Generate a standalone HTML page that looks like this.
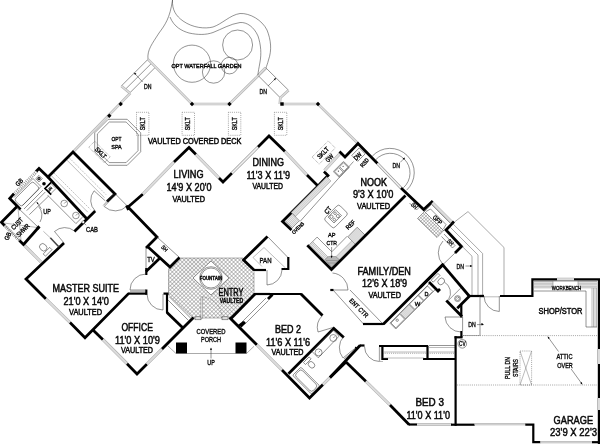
<!DOCTYPE html>
<html><head><meta charset="utf-8"><title>Floor Plan</title>
<style>
html,body{margin:0;padding:0;background:#fff;}
svg{display:block;filter:grayscale(1);}
text{font-family:"Liberation Sans",sans-serif;fill:#0a0a0a;text-anchor:middle;stroke:#0a0a0a;stroke-width:0.36;}
.w{fill:none;stroke:#000;stroke-linecap:butt;stroke-linejoin:miter;}
.t{fill:none;stroke:#3a3a3a;stroke-width:0.55;}
.tl{fill:none;stroke:#777;stroke-width:0.5;}
.dl{fill:none;stroke:#888;stroke-width:0.5;stroke-dasharray:2 1;}
.tm{fill:none;stroke:#555;stroke-width:0.5;}
.tw{fill:#fff;stroke:#3a3a3a;stroke-width:0.55;}
.d{fill:none;stroke:#444;stroke-width:0.55;stroke-dasharray:0.8 1.1;}
.g1{stroke:#a8a8a8;fill:none;}
.g2{stroke:#dcdcdc;fill:none;}
.k{fill:#000;stroke:none;}
.b{font-weight:bold;}
.L{stroke-width:0.5;}
</style></head><body>
<svg width="600" height="444" viewBox="0 0 600 444">
<defs>
<pattern id="hx" width="2.8" height="2.8" patternUnits="userSpaceOnUse" patternTransform="rotate(45)">
<rect width="2.8" height="2.8" fill="#fff"/>
<path d="M0 0.3H2.8M0.3 0V2.8" stroke="#747474" stroke-width="0.55" fill="none"/>
</pattern>
<pattern id="hg" width="2.4" height="2.4" patternUnits="userSpaceOnUse" patternTransform="rotate(45)">
<rect width="2.4" height="2.4" fill="#fff"/>
<path d="M0 0H2.4M0 0V2.4" stroke="#555" stroke-width="0.6" fill="none"/>
</pattern>
<pattern id="hl" width="1.4" height="1.4" patternUnits="userSpaceOnUse" patternTransform="rotate(45)">
<rect width="1.4" height="1.4" fill="#f2f2f2"/>
<path d="M0 0.3H1.4" stroke="#a4a4a4" stroke-width="0.45" fill="none"/>
</pattern>
<pattern id="hr" width="1.4" height="1.4" patternUnits="userSpaceOnUse" patternTransform="rotate(-45)">
<rect width="1.4" height="1.4" fill="#f2f2f2"/>
<path d="M0 0.3H1.4" stroke="#a4a4a4" stroke-width="0.45" fill="none"/>
</pattern>
</defs>
<rect width="600" height="444" fill="#fff"/>
<polygon points="179,258 243,258 254,270 254,294 230,318 193,318 168.5,295 168.5,269" fill="url(#hx)" stroke="#666" stroke-width="0.5"/>
<polygon class="tw" points="211.0,261.0 229.0,278.0 211.0,295.0 193.0,278.0"/>
<circle class="tw" cx="211.0" cy="278.0" r="11.3"/>
<circle class="tw" cx="211.0" cy="278.0" r="10.0"/>
<polyline points="73.5,151.5 130.3,93.2" fill="none" stroke="#b2b2b2" stroke-width="2.6"/>
<polyline points="73.5,151.5 130.3,93.2" fill="none" stroke="#dedede" stroke-width="1.4"/>
<polygon class="k" points="107.1,115.7 109.3,113.5 111.5,115.7 109.3,117.9"/>
<polygon class="k" points="118.5,104 120.7,101.8 122.9,104 120.7,106.2"/>
<polyline class="t" points="148.0,59.3 121.3,86.0"/>
<polyline class="t" points="151.5,63.3 126.0,88.7"/>
<polyline class="t" points="155.3,67.3 130.0,92.7"/>
<polyline points="121.3,86.0 130.0,93.3" fill="none" stroke="#b2b2b2" stroke-width="2.6"/>
<polyline points="121.3,86.0 130.0,93.3" fill="none" stroke="#dedede" stroke-width="1.4"/>
<polyline class="t" points="142.7,82.0 134.0,72.7"/>
<polygon class="k" points="134,72.7 136.4,73.6 135,75"/>
<polyline points="148.0,59.3 192.0,104.0 229.5,104.0 266.0,68.0" fill="none" stroke="#b2b2b2" stroke-width="2.6"/>
<polyline points="148.0,59.3 192.0,104.0 229.5,104.0 266.0,68.0" fill="none" stroke="#dedede" stroke-width="1.4"/>
<polygon class="k" points="189.8,104 192,101.8 194.2,104 192,106.2"/>
<polygon class="k" points="227.3,104 229.5,101.8 231.7,104 229.5,106.2"/>
<polyline class="t" points="265.6,67.6 288.6,90.3"/>
<polyline class="t" points="258.0,75.4 280.3,97.8"/>
<polyline points="258.0,75.4 265.6,67.6" fill="none" stroke="#b2b2b2" stroke-width="2.6"/>
<polyline points="258.0,75.4 265.6,67.6" fill="none" stroke="#dedede" stroke-width="1.4"/>
<polyline points="288.6,90.3 280.3,97.8 279.8,104.0" fill="none" stroke="#b2b2b2" stroke-width="2.6"/>
<polyline points="288.6,90.3 280.3,97.8 279.8,104.0" fill="none" stroke="#dedede" stroke-width="1.4"/>
<polyline class="t" points="268.0,86.0 276.0,78.0"/>
<polygon class="k" points="276,78 275.1,80.4 273.7,79"/>
<polyline points="281.0,104.0 318.0,104.0 358.0,143.5" fill="none" stroke="#b2b2b2" stroke-width="2.6"/>
<polyline points="281.0,104.0 318.0,104.0 358.0,143.5" fill="none" stroke="#dedede" stroke-width="1.4"/>
<rect class="k" x="280.3" y="102.3" width="3.4" height="3.4"/>
<polygon class="k" points="315.8,104 318,101.8 320.2,104 318,106.2"/>
<path class="t" d="M148 59.3C147 50 152 44 159 33C165 25 170 18 172.5 0"/>
<path class="t" d="M172.5 0C172 10 176 16 183 21C193 28 205 29 213 27C222 24 230 15 240 13.5C250 13 262 20 267 30C271 40 272 50 268.5 60C267.5 64 266.5 66 266 68"/>
<path class="t" d="M170 17C174 27 182 31 189 33C198 35 206 35 213 32.5C222 29 230 24 240 22.5C247 22 254 27 258 36C261 45 261.5 54 260 62C259 68 258 72 258 75"/>
<circle class="t" cx="192.0" cy="63.7" r="18.6"/>
<circle class="t" cx="213.6" cy="72.0" r="11.2"/>
<circle class="t" cx="229.5" cy="65.6" r="8.3"/>
<circle class="t" cx="237.6" cy="45.0" r="15.0"/>
<rect class="d" x="136.5" y="112.3" width="12.4" height="23"/>
<text x="144.9" y="123.8" font-size="6.4" textLength="13.0" lengthAdjust="spacingAndGlyphs" transform="rotate(-90 144.9 123.8)">SKLT</text>
<rect class="d" x="182.1" y="112.3" width="12.4" height="23"/>
<text x="190.5" y="123.8" font-size="6.4" textLength="13.0" lengthAdjust="spacingAndGlyphs" transform="rotate(-90 190.5 123.8)">SKLT</text>
<rect class="d" x="228.4" y="112.3" width="12.4" height="23"/>
<text x="236.8" y="123.8" font-size="6.4" textLength="13.0" lengthAdjust="spacingAndGlyphs" transform="rotate(-90 236.8 123.8)">SKLT</text>
<rect class="d" x="274.4" y="112.3" width="12.4" height="23"/>
<text x="282.8" y="123.8" font-size="6.4" textLength="13.0" lengthAdjust="spacingAndGlyphs" transform="rotate(-90 282.8 123.8)">SKLT</text>
<polygon class="t" points="108.2,119.3 127.2,119.3 140.7,132.8 140.7,151.8 127.2,165.3 108.2,165.3 94.7,151.8 94.7,132.8"/>
<polygon class="t" points="109.3,122.0 126.1,122.0 138.0,133.9 138.0,150.7 126.1,162.6 109.3,162.6 97.4,150.7 97.4,133.9"/>
<rect class="d" x="-11" y="-4.2" width="22" height="8.4" transform="translate(99.5,152) rotate(45)"/>
<text x="99.2" y="154.4" font-size="6.4" textLength="13.0" lengthAdjust="spacingAndGlyphs" transform="rotate(45 99.2 154.4)">SKLT</text>
<text x="116.5" y="141.0" font-size="6" textLength="10.0" lengthAdjust="spacingAndGlyphs">OPT</text>
<text x="116.5" y="149.0" font-size="6" textLength="10.5" lengthAdjust="spacingAndGlyphs">SPA</text>
<polyline class="w" points="48.0,177.0 73.0,152.0 115.0,194.0 107.0,201.5" stroke-width="2.75"/>
<polyline class="w" points="47.5,176.5 86.5,218.5" stroke-width="2.75"/>
<polyline class="w" points="74.4,231.6 95.2,211.0" stroke-width="2.75"/>
<polyline class="tl" points="66.9,160.1 104.4,197.6"/>
<polyline class="tl" points="51.3,175.7 87.8,212.2"/>
<polyline class="dl" points="69.2,157.8 106.2,194.8"/>
<polyline class="dl" points="54.0,173.0 90.5,209.5"/>
<polyline class="w" points="48.5,177.5 39.0,168.5 35.8,171.7" stroke-width="2.75"/>
<line x1="36.6" y1="171.6" x2="13.6" y2="194.6" stroke="#fff" stroke-width="2.6"/>
<line x1="36.6" y1="171.6" x2="13.6" y2="194.6" stroke="#666" stroke-width="2.6" stroke-dasharray="0.5 1.5"/>
<line x1="35.7" y1="170.7" x2="12.7" y2="193.7" stroke="#555" stroke-width="0.45" stroke-dasharray="1.2 0.8"/>
<line x1="37.5" y1="172.5" x2="14.5" y2="195.5" stroke="#555" stroke-width="0.45" stroke-dasharray="1.2 0.8"/>
<polyline class="w" points="14.0,193.7 9.7,198.5 20.5,209.5" stroke-width="2.75"/>
<polyline class="w" points="17.5,206.0 1.5,222.3 5.0,226.0" stroke-width="2.75"/>
<line x1="4.6" y1="225.6" x2="20" y2="241" stroke="#fff" stroke-width="2.6"/>
<line x1="4.6" y1="225.6" x2="20" y2="241" stroke="#666" stroke-width="2.6" stroke-dasharray="0.5 1.5"/>
<line x1="3.7" y1="226.5" x2="19.1" y2="241.9" stroke="#555" stroke-width="0.45" stroke-dasharray="1.2 0.8"/>
<line x1="5.5" y1="224.7" x2="20.9" y2="240.1" stroke="#555" stroke-width="0.45" stroke-dasharray="1.2 0.8"/>
<polyline class="w" points="19.5,240.5 24.5,245.5" stroke-width="2.75"/>
<polyline class="w" points="23.5,244.5 38.5,227.5" stroke-width="2.75"/>
<rect class="k" x="-1.6" y="-1.6" width="3.2" height="3.2" transform="translate(38.3,227.5) rotate(45)"/>
<line class="g1" x1="24.7" y1="245.7" x2="41.0" y2="262.0" stroke-width="3.1"/>
<line class="g2" x1="24.7" y1="245.7" x2="41.0" y2="262.0" stroke-width="2.2"/>
<polyline class="w" points="64.0,243.0 26.0,279.0 46.0,299.0" stroke-width="2.75"/>
<line class="g1" x1="46.0" y1="299.0" x2="70.0" y2="322.5" stroke-width="3.1"/>
<line class="g2" x1="46.0" y1="299.0" x2="70.0" y2="322.5" stroke-width="2.2"/>
<polyline class="w" points="70.0,322.5 85.0,337.7 128.5,293.6" stroke-width="2.75"/>
<polyline class="w" points="128.5,293.6 147.0,293.6" stroke-width="2.2"/>
<circle class="k" cx="128.5" cy="293.6" r="1.1"/>
<polyline class="w" points="146.3,289.5 146.3,294.7" stroke-width="2.2"/>
<line x1="50.3" y1="237.8" x2="59" y2="247" stroke="#444" stroke-width="1.6"/>
<polyline class="tl" points="43.4,231.3 50.3,237.8"/>
<polyline class="t" points="64.0,243.0 54.5,231.5"/>
<path class="t" d="M54.5 231.5A15.5 15.5 0 0 1 74.5 231.0"/>
<polygon points="45,188.5 50.5,183 56,188.5 50.5,194" fill="#fff" stroke="#333" stroke-width="0.5"/>
<polyline points="51.2,182.3 45,188.5 51.2,194.7" fill="none" stroke="#000" stroke-width="1.7"/>
<text x="50.6" y="190.1" font-size="3.6" textLength="5.5" lengthAdjust="spacingAndGlyphs" transform="rotate(-45 50.6 190.1)">LIN</text>
<rect x="-2.3" y="-2.3" width="4.6" height="4.6" fill="#fff" stroke="#222" stroke-width="0.5" transform="translate(39,178.7) rotate(45)"/>
<circle class="k" cx="39.0" cy="178.7" r="1.6"/>
<circle class="tw" cx="39.0" cy="178.7" r="0.6"/>
<circle class="k" cx="44.0" cy="183.7" r="1.8"/>
<rect class="t" x="-13" y="-5" width="26" height="10" rx="2.5" transform="translate(27,194) rotate(-45)"/>
<polyline class="t" points="14.0,197.5 33.0,178.5 41.0,186.5 22.5,205.5"/>
<polyline class="t" points="45.3,192.0 26.7,210.7"/>
<polyline class="t" points="48.7,196.0 29.3,214.7"/>
<polyline class="t" points="43.0,190.0 24.0,209.0"/>
<polyline class="t" points="41.3,208.7 36.7,202.0"/>
<polygon class="k" points="36.7,202 38.6,203.2 37.3,204.3"/>
<text x="47.0" y="214.2" font-size="7" textLength="7.5" lengthAdjust="spacingAndGlyphs">UP</text>
<polyline class="t" points="5.0,225.5 20.0,241.0"/>
<polyline class="t" points="17.0,207.0 38.0,227.0"/>
<polyline class="tl" points="4.0,223.0 37.0,227.5"/>
<polyline class="tl" points="18.0,208.0 21.0,240.0"/>
<path class="t" d="M38.7 206.7A13.0 13.0 0 0 1 40.0 222.0"/>
<text x="18.6" y="225.2" font-size="6.4" textLength="14.0" lengthAdjust="spacingAndGlyphs" transform="rotate(-45 18.6 225.2)">CUST</text>
<text x="24.6" y="231.8" font-size="6.4" textLength="15.5" lengthAdjust="spacingAndGlyphs" transform="rotate(-45 24.6 231.8)">SHWR</text>
<text x="20.8" y="183.8" font-size="6.4" textLength="8.0" lengthAdjust="spacingAndGlyphs" transform="rotate(-45 20.8 183.8)">GB</text>
<text x="9.8" y="237.0" font-size="6.4" textLength="8.0" lengthAdjust="spacingAndGlyphs" transform="rotate(-68 9.8 237.0)">GB</text>
<ellipse class="t" cx="43.2" cy="247.3" rx="3.3" ry="4" transform="rotate(-45 43.2 247.3)"/>
<rect class="t" x="-4.6" y="-1.6" width="9.2" height="3.2" transform="translate(47.6,251.8) rotate(-45)"/>
<polyline class="t" points="47.7,195.3 75.9,223.6 82.8,216.8"/>
<circle class="t" cx="64.2" cy="203.5" r="3.3"/>
<circle class="t" cx="75.9" cy="215.5" r="3.3"/>
<polyline class="t" points="64.2,203.5 66.0,201.7"/>
<polyline class="t" points="75.9,215.5 77.7,213.7"/>
<rect x="-1.2" y="-1.2" width="2.4" height="2.4" fill="#fff" stroke="#222" stroke-width="0.4" transform="translate(83.2,222.1) rotate(45)"/>
<polyline class="t" points="84.0,223.0 86.0,225.2"/>
<text x="92.0" y="231.8" font-size="7" textLength="12.0" lengthAdjust="spacingAndGlyphs">CAB</text>
<path class="t" d="M104.2 206.5A16.3 16.3 0 0 0 127.0 206.0"/>
<polyline class="t" points="115.5,194.7 104.2,206.5"/>
<polyline class="t" points="114.3,193.8 103.2,205.5"/>
<polyline class="t" points="115.5,194.1 127.3,206.0"/>
<path class="t" d="M94.1 190.8A15.0 15.0 0 0 0 95.2 211.0"/>
<polyline class="t" points="105.3,200.9 94.1,190.8"/>
<polyline class="w" points="146.3,268.0 146.3,275.0" stroke-width="2.2"/>
<polyline class="t" points="130.0,290.0 146.0,290.0"/>
<polyline class="t" points="130.0,291.2 146.0,291.2"/>
<path class="t" d="M130.0 290.0A16.0 16.0 0 0 1 146.0 274.0"/>
<polyline class="w" points="93.0,330.0 103.0,339.7" stroke-width="2.75"/>
<line class="g1" x1="103.0" y1="339.7" x2="127.0" y2="363.7" stroke-width="3.1"/>
<line class="g2" x1="103.0" y1="339.7" x2="127.0" y2="363.7" stroke-width="2.2"/>
<polyline class="w" points="127.0,363.7 137.0,374.0 147.0,364.0" stroke-width="2.75"/>
<line class="g1" x1="147.0" y1="364.0" x2="162.0" y2="349.0" stroke-width="3.1"/>
<line class="g2" x1="147.0" y1="364.0" x2="162.0" y2="349.0" stroke-width="2.2"/>
<polyline class="w" points="162.0,349.0 193.5,317.5" stroke-width="2.75"/>
<polyline class="w" points="163.5,293.6 168.5,293.6" stroke-width="2.2"/>
<polyline class="w" points="167.0,293.6 167.0,312.5" stroke-width="2.2"/>
<polyline class="w" points="167.0,312.5 183.5,328.5" stroke-width="2.75"/>
<circle class="k" cx="167.0" cy="312.5" r="1.1"/>
<polyline class="t" points="163.0,294.0 163.0,310.0"/>
<path class="t" d="M147.0 294.0A16.0 16.0 0 0 0 163.0 310.0"/>
<polyline class="t" points="169.5,297.0 191.0,318.5"/>
<polyline class="t" points="168.0,300.0 188.5,320.5"/>
<polyline class="w" points="128.0,207.0 157.0,237.0 146.0,248.0" stroke-width="2.75"/>
<polyline class="w" points="143.0,194.0 127.5,207.5" stroke-width="2.75"/>
<polyline class="w" points="126.5,205.5 128.5,210.0" stroke-width="2.75"/>
<polyline class="t" points="146.0,248.0 146.0,269.0"/>
<polyline class="w" points="147.5,246.5 170.0,267.0 179.5,257.5" stroke-width="2.75"/>
<polyline class="w" points="160.5,257.5 146.0,271.5" stroke-width="2.75"/>
<polyline class="t" points="157.0,237.0 179.5,257.5"/>
<text x="151.0" y="261.5" font-size="7" textLength="7.5" lengthAdjust="spacingAndGlyphs">TV</text>
<text x="163.0" y="249.8" font-size="5.6" textLength="6.5" lengthAdjust="spacingAndGlyphs" transform="rotate(45 163.0 249.8)">SH</text>
<line class="g1" x1="143.0" y1="194.0" x2="174.0" y2="162.0" stroke-width="3.1"/>
<line class="g2" x1="143.0" y1="194.0" x2="174.0" y2="162.0" stroke-width="2.2"/>
<polyline class="w" points="174.0,162.0 189.0,147.5 196.0,154.5" stroke-width="2.75"/>
<line class="g1" x1="196.0" y1="154.5" x2="219.0" y2="178.0" stroke-width="3.1"/>
<line class="g2" x1="196.0" y1="154.5" x2="219.0" y2="178.0" stroke-width="2.2"/>
<polyline class="w" points="219.0,178.0 223.0,182.0 232.0,173.0" stroke-width="2.75"/>
<line x1="232" y1="173" x2="258" y2="147" stroke="#8a8a8a" stroke-width="2.7"/>
<line x1="232" y1="173" x2="258" y2="147" stroke="#f2f2f2" stroke-width="1.7"/>
<polyline class="w" points="258.0,147.0 269.0,136.0 285.0,151.5" stroke-width="2.75"/>
<line class="g1" x1="285.0" y1="151.5" x2="307.0" y2="175.0" stroke-width="3.1"/>
<line class="g2" x1="285.0" y1="151.5" x2="307.0" y2="175.0" stroke-width="2.2"/>
<polyline class="w" points="307.0,175.0 318.0,186.0 328.0,175.5 324.0,171.5" stroke-width="2.75"/>
<polyline class="w" points="318.5,185.5 282.5,221.5 291.5,230.0" stroke-width="2.75"/>
<line class="g1" x1="324.5" y1="170.5" x2="340.5" y2="153.0" stroke-width="3.1"/>
<line class="g2" x1="324.5" y1="170.5" x2="340.5" y2="153.0" stroke-width="2.2"/>
<polyline class="w" points="339.5,151.5 345.0,157.0 358.0,143.5 377.5,163.5" stroke-width="2.75"/>
<line x1="377.5" y1="163.5" x2="401" y2="188" stroke="#8a8a8a" stroke-width="2.7"/>
<line x1="377.5" y1="163.5" x2="401" y2="188" stroke="#f2f2f2" stroke-width="1.7"/>
<polyline class="w" points="401.0,188.0 423.7,209.6 432.8,201.0" stroke-width="2.75"/>
<line class="g1" x1="432.5" y1="202.8" x2="452.2" y2="222.5" stroke-width="3.1"/>
<line class="g2" x1="432.5" y1="202.8" x2="452.2" y2="222.5" stroke-width="2.2"/>
<polyline class="w" points="454.0,221.5 446.0,230.0 461.5,246.5 455.0,253.0" stroke-width="2.75"/>
<polygon points="326.8,176.8 331.0,181.0 295.4,216.7 291.1,212.4" fill="url(#hr)" stroke="#777" stroke-width="0.4"/>
<polygon points="285.2,220.8 292.4,213.7 299.4,220.7 292.2,227.8" fill="url(#hl)" stroke="#444" stroke-width="0.5"/>
<polyline class="t" points="353.5,161.5 300.0,221.5"/>
<text x="299.3" y="229.3" font-size="5" textLength="15.0" lengthAdjust="spacingAndGlyphs" transform="rotate(-45 299.3 229.3)">OVENS</text>
<g transform="translate(341.4,169.4) rotate(-45)"><rect class="t" x="-7.2" y="-4.2" width="14.4" height="8.4" rx="1"/><rect class="t" x="-6.2" y="-3.2" width="5.6" height="6.4"/><rect class="t" x="0.6" y="-3.2" width="5.6" height="6.4"/><circle class="k" cx="-3.4" cy="-1" r="0.5"/><circle class="k" cx="3.4" cy="-1" r="0.5"/></g>
<rect class="t" x="-5.3" y="-4.2" width="10.6" height="8.4" transform="translate(358.5,154.6) rotate(-45)"/>
<text x="359.2" y="157.8" font-size="6.4" textLength="8.5" lengthAdjust="spacingAndGlyphs" transform="rotate(-45 359.2 157.8)">DW</text>
<text x="366.0" y="164.0" font-size="5.6" textLength="10.0" lengthAdjust="spacingAndGlyphs" transform="rotate(-50 366.0 164.0)">RSD</text>
<rect class="d" x="-11.4" y="-5" width="22.8" height="10" transform="translate(323.7,152.5) rotate(-45)"/>
<text x="324.6" y="154.4" font-size="6.4" textLength="14.0" lengthAdjust="spacingAndGlyphs" transform="rotate(-45 324.6 154.4)">SKLT</text>
<text x="331.0" y="159.8" font-size="6.4" textLength="8.5" lengthAdjust="spacingAndGlyphs" transform="rotate(-45 331.0 159.8)">GW</text>
<g transform="translate(336,216.5) rotate(-45)"><rect class="t" x="-10.5" y="-6.8" width="21" height="13.6" rx="2.5"/><rect class="t" x="-6" y="-5.2" width="10.5" height="8.4"/><circle class="t" cx="-3.4" cy="-3" r="1.6"/><circle class="t" cx="1.6" cy="-3" r="1.3"/><circle class="t" cx="-3.4" cy="1" r="1.3"/><circle class="t" cx="1.6" cy="1" r="1.6"/></g>
<text x="329.6" y="211.6" font-size="6.4" textLength="7.5" lengthAdjust="spacingAndGlyphs" transform="rotate(-50 329.6 211.6)">CT</text>
<polygon points="347.8,236.8 357.2,227.2 365.5,235.5 356.0,245.0" fill="url(#hr)" stroke="#444" stroke-width="0.5"/>
<text x="352.0" y="226.2" font-size="6.2" textLength="10.5" lengthAdjust="spacingAndGlyphs" transform="rotate(-45 352.0 226.2)">REF</text>
<polyline points="308.4,245.9 317.1,237.1 331.8,251.8 347.2,236.2" class="t"/>
<polygon points="308.4,245.9 312.6,241.6 331.8,260.8 331.8,269.2" fill="url(#hl)" stroke="#777" stroke-width="0.4"/>
<polygon points="331.8,260.8 351.8,240.8 356.0,245.0 331.8,269.2" fill="url(#hr)" stroke="#777" stroke-width="0.4"/>
<polygon points="325.1,259.4 328.6,256.5 335.6,256.5 339.1,259.4 331.5,267.4" fill="#b8b8b8" stroke="#555" stroke-width="0.4"/>
<polyline class="tl" points="326.0,260.5 337.5,260.5"/>
<polyline class="tl" points="328.0,263.0 335.5,263.0"/>
<text x="331.7" y="237.4" font-size="6.2" textLength="7.5" lengthAdjust="spacingAndGlyphs">AP</text>
<text x="331.7" y="245.2" font-size="6.2" textLength="10.5" lengthAdjust="spacingAndGlyphs">CTR</text>
<polyline class="t" points="331.6,247.0 331.6,257.5"/>
<polygon class="k" points="331.6,258.3 330.7,255.7 332.5,255.7"/>
<polyline class="w" points="307.3,245.3 331.5,269.5 405.5,195.5" stroke-width="2.75"/>
<path class="t" d="M372.3 156.1A24.2 24.2 0 1 1 406.5 190.3"/>
<path class="t" d="M375.5 160A19.7 19.7 0 1 1 403.3 187.8"/>
<text x="396.3" y="167.6" font-size="6.8" textLength="7.5" lengthAdjust="spacingAndGlyphs">DN</text>
<polyline class="t" points="400.3,162.3 404.6,158.0"/>
<polygon class="k" points="405,157.6 404.1,160.1 402.6,158.6"/>
<text x="412.8" y="207.4" font-size="6.2" textLength="6.5" lengthAdjust="spacingAndGlyphs" transform="rotate(45 412.8 207.4)">SH</text>
<polygon points="426,210 445,229 437,237.5 417.5,218.5" fill="url(#hg)" stroke="#444" stroke-width="0.5"/>
<polygon points="431.5,204.5 450.5,223.5 443.5,230.5 424.5,211.5" fill="#fff" stroke="#333" stroke-width="0.5"/>
<polyline class="t" points="426.0,211.5 430.5,209.0 446.0,224.5 443.5,229.0"/>
<text x="436.0" y="221.4" font-size="6.2" textLength="10.5" lengthAdjust="spacingAndGlyphs" transform="rotate(45 436.0 221.4)">GFP</text>
<polyline class="t" points="409.5,203.0 416.5,210.0 419.5,207.0"/>
<text x="448.8" y="243.8" font-size="6.2" textLength="6.5" lengthAdjust="spacingAndGlyphs" transform="rotate(45 448.8 243.8)">SH</text>
<polyline class="t" points="444.0,234.0 455.0,245.5"/>
<polyline class="t" points="441.5,236.5 452.5,248.0 455.0,245.5"/>
<path class="t" d="M443.0 241.0A17.0 17.0 0 0 0 443.0 264.5"/>
<polyline class="t" points="443.0,264.5 455.0,253.0"/>
<polyline class="tm" points="454.5,222.0 468.0,211.6 504.0,247.5 504.0,296.0"/>
<polyline class="tm" points="452.6,223.5 482.6,253.5 482.6,296.0"/>
<polyline class="tm" points="449.5,226.5 478.0,255.0 478.0,296.0"/>
<polyline class="tm" points="461.8,246.0 472.0,256.2 472.0,296.0"/>
<text x="460.3" y="268.7" font-size="6.8" textLength="7.5" lengthAdjust="spacingAndGlyphs">DN</text>
<polyline class="t" points="465.5,266.0 472.0,266.0"/>
<polygon class="k" points="472.3,266 470,265.1 470,266.9"/>
<text x="472.0" y="327.3" font-size="6.8" textLength="7.5" lengthAdjust="spacingAndGlyphs">DN</text>
<polyline class="t" points="477.0,324.6 483.6,324.6"/>
<polygon class="k" points="483.9,324.6 481.6,323.7 481.6,325.5"/>
<polyline class="w" points="267.5,236.5 243.5,260.0 254.0,270.0" stroke-width="2.75"/>
<polyline class="w" points="254.0,270.0 266.0,270.0" stroke-width="2.2"/>
<circle class="k" cx="254.0" cy="270.0" r="1.1"/>
<polyline class="t" points="267.5,236.5 288.0,257.5"/>
<polyline class="w" points="288.3,257.0 288.3,269.0 281.5,269.0" stroke-width="2.2"/>
<polyline class="tl" points="253.0,257.5 264.0,247.5 285.5,268.0"/>
<polyline class="tl" points="253.0,257.5 262.0,266.5"/>
<text x="265.5" y="262.7" font-size="7" textLength="12.0" lengthAdjust="spacingAndGlyphs">PAN</text>
<polyline class="t" points="267.0,270.0 267.0,285.0"/>
<path class="t" d="M267.0 285.0A15.5 15.5 0 0 0 282.0 270.0"/>
<polyline class="w" points="270.0,294.0 254.0,294.0" stroke-width="2.2"/>
<polyline class="w" points="231.0,318.5 255.0,294.0" stroke-width="2.75"/>
<polyline class="w" points="255.0,294.0 301.0,294.0" stroke-width="2.2"/>
<circle class="k" cx="255.0" cy="294.0" r="1.1"/>
<polyline class="w" points="301.0,294.0 322.5,315.5" stroke-width="2.75"/>
<circle class="k" cx="301.0" cy="294.0" r="1.1"/>
<polyline class="w" points="229.5,317.5 257.0,345.0" stroke-width="2.75"/>
<line class="g1" x1="257.0" y1="345.0" x2="282.0" y2="370.0" stroke-width="3.1"/>
<line class="g2" x1="257.0" y1="345.0" x2="282.0" y2="370.0" stroke-width="2.2"/>
<polyline class="w" points="282.0,370.0 309.5,398.0 323.0,384.5" stroke-width="2.75"/>
<line class="g1" x1="323.0" y1="384.5" x2="330.0" y2="377.5" stroke-width="3.1"/>
<line class="g2" x1="323.0" y1="384.5" x2="330.0" y2="377.5" stroke-width="2.2"/>
<polyline class="w" points="330.0,377.5 346.0,362.0" stroke-width="2.75"/>
<polyline class="w" points="272.5,294.5 268.0,299.0" stroke-width="2.75"/>
<polyline class="w" points="245.0,322.0 240.5,326.5" stroke-width="2.75"/>
<polyline class="t" points="266.0,298.0 242.0,322.0"/>
<polyline class="t" points="268.5,300.5 244.5,324.5"/>
<polyline class="w" points="238.0,326.5 244.0,322.0" stroke-width="2.75"/>
<rect class="k" x="176.0" y="342.5" width="11.0" height="11.0"/>
<rect class="k" x="235.5" y="342.5" width="11.0" height="11.0"/>
<polyline class="tm" points="168.0,346.0 176.0,353.5 246.5,353.5 254.0,346.3"/>
<rect x="195" y="316.8" width="6" height="3" fill="#ddd" stroke="#444" stroke-width="0.5"/>
<rect x="222" y="316.8" width="6" height="3" fill="#ddd" stroke="#444" stroke-width="0.5"/>
<rect x="201" y="297" width="1.8" height="21" fill="#fff" stroke="#555" stroke-width="0.45"/>
<path class="d" d="M202.8 297A21 21 0 0 1 222 318"/>
<polyline class="t" points="211.0,358.5 211.0,348.0"/>
<polygon class="k" points="211,347.5 210.1,350 211.9,350"/>
<text x="211.0" y="333.5" font-size="7" textLength="29.0" lengthAdjust="spacingAndGlyphs">COVERED</text>
<text x="211.0" y="342.0" font-size="7" textLength="20.0" lengthAdjust="spacingAndGlyphs">PORCH</text>
<text x="211.0" y="365.0" font-size="7" textLength="7.5" lengthAdjust="spacingAndGlyphs">UP</text>
<text x="211.0" y="280.0" font-size="5.2" textLength="22.5" lengthAdjust="spacingAndGlyphs" class="b">FOUNTAIN</text>
<text x="231.0" y="296.0" font-size="10.5" textLength="25.0" lengthAdjust="spacingAndGlyphs" class="L">ENTRY</text>
<text x="231.5" y="303.0" font-size="6.4" textLength="23.5" lengthAdjust="spacingAndGlyphs" class="b">VAULTED</text>
<polyline class="w" points="288.5,373.7 333.8,328.4 343.8,337.4" stroke-width="2.75"/>
<path class="t" d="M322.5 315.5A16.5 16.5 0 0 0 318.0 332.0"/>
<polyline class="t" points="318.0,332.0 333.0,327.5"/>
<rect class="t" x="-13.3" y="-5.8" width="26.6" height="11.6" rx="1.2" transform="translate(306.2,380.6) rotate(45)"/>
<rect class="t" x="-12" y="-4.4" width="24" height="8.8" rx="2.6" transform="translate(306.2,380.6) rotate(45)"/>
<ellipse class="t" cx="311.5" cy="364.8" rx="2.8" ry="3.6" transform="rotate(-45 311.5 364.8)"/>
<rect class="t" x="-4" y="-1.4" width="8" height="2.8" transform="translate(307.3,360.7) rotate(-45)"/>
<polygon class="t" points="332.7,330.0 339.0,336.2 318.3,357.8 312.0,351.5"/>
<circle class="t" cx="318.6" cy="352.4" r="3.5"/>
<circle class="t" cx="333.3" cy="338.0" r="3.5"/>
<polyline class="t" points="318.6,352.4 320.3,350.7"/>
<polyline class="t" points="333.3,338.0 335.0,336.3"/>
<path class="t" d="M343.7 336.4A16.6 16.6 0 0 0 343.0 358.0"/>
<polyline class="t" points="343.0,358.0 356.0,347.5"/>
<polyline class="t" points="344.0,359.0 357.0,348.5"/>
<polyline class="w" points="355.3,347.0 357.0,349.0" stroke-width="1.4"/>
<polyline class="w" points="330.3,290.0 333.5,290.0" stroke-width="2.2"/>
<polyline class="t" points="333.0,290.0 348.0,290.0"/>
<path class="t" d="M332.5 273.0A17.0 17.0 0 0 1 348.0 290.0"/>
<polyline class="t" points="333.0,290.0 363.5,324.0"/>
<polyline class="t" points="350.0,290.0 382.5,323.5"/>
<polyline class="w" points="363.0,324.0 383.5,324.0" stroke-width="2.2"/>
<polyline class="w" points="383.5,324.0 443.5,264.0" stroke-width="2.75"/>
<circle class="k" cx="383.5" cy="324.0" r="1.1"/>
<text x="357.3" y="309.6" font-size="6.4" textLength="24.0" lengthAdjust="spacingAndGlyphs" transform="rotate(45 357.3 309.6)">ENT CTR</text>
<polygon class="tw" points="389.9,323.1 429.6,283.4 435.5,289.3 395.8,329.0"/>
<polygon class="t" points="391.0,323.0 399.8,314.2 404.6,319.1 395.9,327.9"/>
<polygon points="400.0,313.5 409.0,304.5 414.4,309.9 405.4,318.9" fill="url(#hl)" stroke="#444" stroke-width="0.5"/>
<polygon class="t" points="409.5,304.0 418.0,295.5 423.4,300.9 414.9,309.4"/>
<polygon class="t" points="418.5,295.0 427.5,286.0 432.9,291.4 423.9,300.4"/>
<circle class="t" cx="397.2" cy="320.2" r="1.2"/>
<text x="417.6" y="306.3" font-size="6" textLength="5.5" lengthAdjust="spacingAndGlyphs">W</text>
<text x="426.5" y="296.0" font-size="6" textLength="4.0" lengthAdjust="spacingAndGlyphs">D</text>
<polyline class="w" points="364.5,345.5 360.0,345.5" stroke-width="2.2"/>
<polyline class="w" points="360.0,345.5 330.0,377.5" stroke-width="2.75"/>
<circle class="k" cx="360.0" cy="345.5" r="1.1"/>
<polyline class="w" points="346.0,362.0 366.0,381.5" stroke-width="2.75"/>
<line class="g1" x1="366.0" y1="381.5" x2="390.0" y2="405.0" stroke-width="3.1"/>
<line class="g2" x1="366.0" y1="381.5" x2="390.0" y2="405.0" stroke-width="2.2"/>
<polyline class="w" points="390.0,405.0 409.0,424.5" stroke-width="2.75"/>
<polyline class="w" points="409.0,424.5 417.0,424.5" stroke-width="2.2"/>
<circle class="k" cx="409.0" cy="424.5" r="1.1"/>
<line class="g1" x1="417.0" y1="424.5" x2="452.0" y2="424.5" stroke-width="3.1"/>
<line class="g2" x1="417.0" y1="424.5" x2="452.0" y2="424.5" stroke-width="2.2"/>
<path class="t" d="M364.5 346.5A15.0 15.0 0 0 0 379.5 361.5"/>
<line x1="379.5" y1="347" x2="379.5" y2="361.5" stroke="#aaa" stroke-width="1.3"/>
<polyline class="tl" points="379.5,361.5 383.0,361.5"/>
<polyline class="w" points="379.0,346.0 428.0,346.0" stroke-width="2.2"/>
<polyline class="w" points="382.4,346.0 382.4,359.0 388.0,359.0" stroke-width="2.2"/>
<polyline class="w" points="427.5,346.0 427.5,359.0" stroke-width="2.2"/>
<polyline class="w" points="423.0,359.0 455.6,359.0" stroke-width="2.2"/>
<polyline class="t" points="428.5,345.5 455.0,345.5"/>
<polyline class="tl" points="428.5,347.5 455.0,347.5"/>
<polyline class="tl" points="383.5,352.0 426.5,352.0"/>
<polyline class="d" points="383.5,353.3 426.5,353.3"/>
<polyline class="tl" points="428.5,352.0 454.5,352.0"/>
<polyline class="d" points="428.5,353.3 454.5,353.3"/>
<polyline class="tl" points="383.5,358.0 424.0,358.0"/>
<polyline class="w" points="443.5,264.0 420.0,287.5" stroke-width="2.75"/>
<polyline class="w" points="442.3,264.3 469.2,296.0" stroke-width="2.75"/>
<polyline class="w" points="469.2,296.0 484.0,296.0" stroke-width="2.2"/>
<circle class="k" cx="469.2" cy="296.0" r="1.1"/>
<polyline class="w" points="469.5,296.0 457.3,308.2" stroke-width="2.75"/>
<polyline class="w" points="446.3,300.5 462.0,316.5" stroke-width="2.75"/>
<polyline class="w" points="461.3,304.5 461.3,317.5" stroke-width="2.2"/>
<polyline class="w" points="429.0,282.0 438.0,291.0 440.0,289.0" stroke-width="2.75"/>
<ellipse class="t" cx="441.2" cy="281.4" rx="3" ry="3.6" transform="rotate(45 441.2 281.4)"/>
<rect class="t" x="-4.8" y="-1.4" width="9.6" height="2.8" transform="translate(435.6,277.8) rotate(-45)"/>
<polyline class="t" points="448.3,300.5 460.5,288.3"/>
<circle class="t" cx="457.6" cy="298.6" r="1.9"/>
<circle class="t" cx="457.6" cy="298.6" r="3.0"/>
<polyline class="t" points="457.6,298.6 459.1,297.1"/>
<path class="t" d="M444.3 282.0A12.4 12.4 0 0 1 448.5 299.5"/>
<polyline class="t" points="445.0,317.0 462.0,317.0"/>
<path class="t" d="M445.0 317.0A16.0 16.0 0 0 0 461.0 332.0"/>
<polyline class="w" points="461.4,331.0 461.4,337.5" stroke-width="2.2"/>
<polyline class="w" points="454.5,337.3 462.5,337.3" stroke-width="2.2"/>
<polyline class="t" points="462.6,317.0 462.6,331.0"/>
<polyline class="t" points="480.0,296.0 480.0,335.5"/>
<polyline class="tl" points="462.6,335.5 480.0,335.5"/>
<polyline class="w" points="455.6,336.2 455.6,425.8" stroke-width="2.2"/>
<polyline class="w" points="451.0,424.7 474.7,424.7" stroke-width="2.2"/>
<line class="g1" x1="474.7" y1="424.2" x2="525.5" y2="424.2" stroke-width="2.2"/>
<line class="g2" x1="474.7" y1="424.2" x2="525.5" y2="424.2" stroke-width="1.3"/>
<polyline class="w" points="525.3,424.7 533.3,424.7 533.3,442.2 540.5,442.2" stroke-width="2.2"/>
<line class="g1" x1="540.5" y1="442.2" x2="592.0" y2="442.2" stroke-width="2.2"/>
<line class="g2" x1="540.5" y1="442.2" x2="592.0" y2="442.2" stroke-width="1.3"/>
<polyline class="w" points="592.0,442.2 600.0,442.2" stroke-width="2.2"/>
<polyline class="w" points="500.0,296.0 532.4,296.0 532.4,279.3 600.0,279.3" stroke-width="2.2"/>
<polyline class="w" points="598.9,279.0 598.9,444.0" stroke-width="2.2"/>
<line class="g1" x1="598.9" y1="349.0" x2="598.9" y2="364.0" stroke-width="3.1"/>
<line class="g2" x1="598.9" y1="349.0" x2="598.9" y2="364.0" stroke-width="2.2"/>
<line class="g1" x1="598.9" y1="398.0" x2="598.9" y2="410.0" stroke-width="3.1"/>
<line class="g2" x1="598.9" y1="398.0" x2="598.9" y2="410.0" stroke-width="2.2"/>
<line class="g1" x1="557.0" y1="279.3" x2="574.0" y2="279.3" stroke-width="3.1"/>
<line class="g2" x1="557.0" y1="279.3" x2="574.0" y2="279.3" stroke-width="2.2"/>
<polyline class="w" points="480.0,296.0 484.0,296.0" stroke-width="2.2"/>
<polyline class="t" points="499.3,296.0 499.3,311.5"/>
<path class="t" d="M484.0 296.0A15.5 15.5 0 0 0 499.3 311.5"/>
<polyline class="tl" points="484.0,296.8 500.0,296.8"/>
<polyline class="w" points="481.0,324.0 483.0,324.0" stroke-width="1"/>
<polyline class="t" points="534.0,281.0 597.0,281.0"/>
<polyline class="t" points="534.0,291.0 586.0,291.0 586.0,327.0 597.0,327.0"/>
<polyline class="tl" points="534.0,281.8 553.0,281.8"/>
<polyline class="tl" points="578.0,281.8 597.0,281.8"/>
<polyline class="tl" points="534.0,283.3 553.0,283.3"/>
<polyline class="tl" points="578.0,283.3 597.0,283.3"/>
<polyline class="tl" points="534.0,284.8 553.0,284.8"/>
<polyline class="tl" points="578.0,284.8 597.0,284.8"/>
<polyline class="tl" points="534.0,286.3 553.0,286.3"/>
<polyline class="tl" points="578.0,286.3 597.0,286.3"/>
<polyline class="tl" points="534.0,287.8 553.0,287.8"/>
<polyline class="tl" points="578.0,287.8 597.0,287.8"/>
<polyline class="tl" points="553.0,281.0 553.0,288.0"/>
<polyline class="tl" points="578.0,281.0 578.0,288.0"/>
<polyline class="tl" points="592.0,288.0 592.0,327.0"/>
<polyline class="tl" points="593.5,288.0 593.5,327.0"/>
<polyline class="tl" points="595.0,288.0 595.0,327.0"/>
<polyline class="tl" points="596.5,288.0 596.5,327.0"/>
<text x="566.5" y="290.3" font-size="5.6" textLength="29.5" lengthAdjust="spacingAndGlyphs">WORKBENCH</text>
<text x="560.5" y="314.2" font-size="9.2" textLength="44.0" lengthAdjust="spacingAndGlyphs" class="L">SHOP/STOR</text>
<polyline class="d" points="463.0,335.6 597.0,335.6"/>
<polyline class="d" points="457.0,385.0 597.0,385.0"/>
<polyline class="t" points="548.0,337.0 582.0,384.0"/>
<polygon class="k" points="547.5,336.3 549.8,338 548.4,339"/>
<polygon class="k" points="582.5,384.7 580.2,383 581.6,382"/>
<rect x="553" y="351.5" width="23" height="17.5" fill="#fff"/>
<text x="564.5" y="358.8" font-size="7" textLength="16.0" lengthAdjust="spacingAndGlyphs">ATTIC</text>
<text x="565.0" y="367.8" font-size="7" textLength="15.5" lengthAdjust="spacingAndGlyphs">OVER</text>
<rect class="d" x="520" y="351" width="11.6" height="34"/>
<polyline class="tl" points="520.0,351.0 531.6,385.0"/>
<polyline class="tl" points="531.6,351.0 520.0,385.0"/>
<text x="510.3" y="368.0" font-size="6.6" textLength="22.0" lengthAdjust="spacingAndGlyphs" transform="rotate(-90 510.3 368.0)">PULL DN</text>
<text x="517.9" y="368.0" font-size="6.6" textLength="18.0" lengthAdjust="spacingAndGlyphs" transform="rotate(-90 517.9 368.0)">STAIRS</text>
<circle class="tw" cx="462.3" cy="343.8" r="4.3"/>
<text x="462.3" y="346.0" font-size="6.4" textLength="6.5" lengthAdjust="spacingAndGlyphs">CV</text>
<text x="573.3" y="423.7" font-size="11" textLength="39.5" lengthAdjust="spacingAndGlyphs" class="L">GARAGE</text>
<text x="573.5" y="436.2" font-size="11.5" textLength="47.0" lengthAdjust="spacingAndGlyphs" class="L">23'9 X 22'3</text>
<text x="85.7" y="292.0" font-size="10.2" textLength="66.5" lengthAdjust="spacingAndGlyphs" class="L">MASTER SUITE</text>
<text x="86.2" y="304.5" font-size="11" textLength="45.5" lengthAdjust="spacingAndGlyphs" class="L">21'0 X 14'0</text>
<text x="85.5" y="315.0" font-size="8.8" textLength="33.0" lengthAdjust="spacingAndGlyphs" class="L">VAULTED</text>
<text x="137.2" y="331.0" font-size="10.2" textLength="31.5" lengthAdjust="spacingAndGlyphs" class="L">OFFICE</text>
<text x="137.5" y="343.5" font-size="11" textLength="45.0" lengthAdjust="spacingAndGlyphs" class="L">11'0 X 10'9</text>
<text x="137.0" y="353.2" font-size="8.8" textLength="32.0" lengthAdjust="spacingAndGlyphs" class="L">VAULTED</text>
<text x="188.5" y="178.0" font-size="10.2" textLength="30.0" lengthAdjust="spacingAndGlyphs" class="L">LIVING</text>
<text x="189.0" y="191.0" font-size="11" textLength="45.0" lengthAdjust="spacingAndGlyphs" class="L">14'9 X 20'0</text>
<text x="188.7" y="201.5" font-size="8.8" textLength="32.5" lengthAdjust="spacingAndGlyphs" class="L">VAULTED</text>
<text x="268.2" y="166.0" font-size="10.2" textLength="31.5" lengthAdjust="spacingAndGlyphs" class="L">DINING</text>
<text x="268.2" y="178.5" font-size="11" textLength="43.5" lengthAdjust="spacingAndGlyphs" class="L">11'3 X 11'9</text>
<text x="267.7" y="189.0" font-size="8.8" textLength="30.5" lengthAdjust="spacingAndGlyphs" class="L">VAULTED</text>
<text x="373.7" y="186.0" font-size="10.2" textLength="26.5" lengthAdjust="spacingAndGlyphs" class="L">NOOK</text>
<text x="373.2" y="198.0" font-size="11" textLength="40.5" lengthAdjust="spacingAndGlyphs" class="L">9'3 X 10'0</text>
<text x="373.5" y="209.0" font-size="8.8" textLength="33.0" lengthAdjust="spacingAndGlyphs" class="L">VAULTED</text>
<text x="384.2" y="274.6" font-size="10.2" textLength="53.5" lengthAdjust="spacingAndGlyphs" class="L">FAMILY/DEN</text>
<text x="384.5" y="287.4" font-size="11" textLength="45.0" lengthAdjust="spacingAndGlyphs" class="L">12'6 X 18'9</text>
<text x="384.7" y="297.5" font-size="8.8" textLength="32.5" lengthAdjust="spacingAndGlyphs" class="L">VAULTED</text>
<text x="288.0" y="333.4" font-size="10.2" textLength="26.0" lengthAdjust="spacingAndGlyphs" class="L">BED 2</text>
<text x="288.0" y="345.6" font-size="11" textLength="44.0" lengthAdjust="spacingAndGlyphs" class="L">11'6 X 11'6</text>
<text x="287.5" y="355.4" font-size="8.8" textLength="32.2" lengthAdjust="spacingAndGlyphs" class="L">VAULTED</text>
<text x="429.7" y="405.5" font-size="10.2" textLength="28.5" lengthAdjust="spacingAndGlyphs" class="L">BED 3</text>
<text x="428.2" y="418.5" font-size="11" textLength="43.5" lengthAdjust="spacingAndGlyphs" class="L">11'0 X 11'0</text>
<text x="194.7" y="144.0" font-size="8.2" textLength="93.5" lengthAdjust="spacingAndGlyphs" class="L">VAULTED COVERED DECK</text>
<text x="206.5" y="67.5" font-size="5.4" textLength="70.0" lengthAdjust="spacingAndGlyphs">OPT WATERFALL GARDEN</text>
<text x="147.7" y="89.0" font-size="6.8" textLength="7.5" lengthAdjust="spacingAndGlyphs">DN</text>
<text x="263.2" y="93.5" font-size="6.8" textLength="7.5" lengthAdjust="spacingAndGlyphs">DN</text>
</svg>
</body></html>
